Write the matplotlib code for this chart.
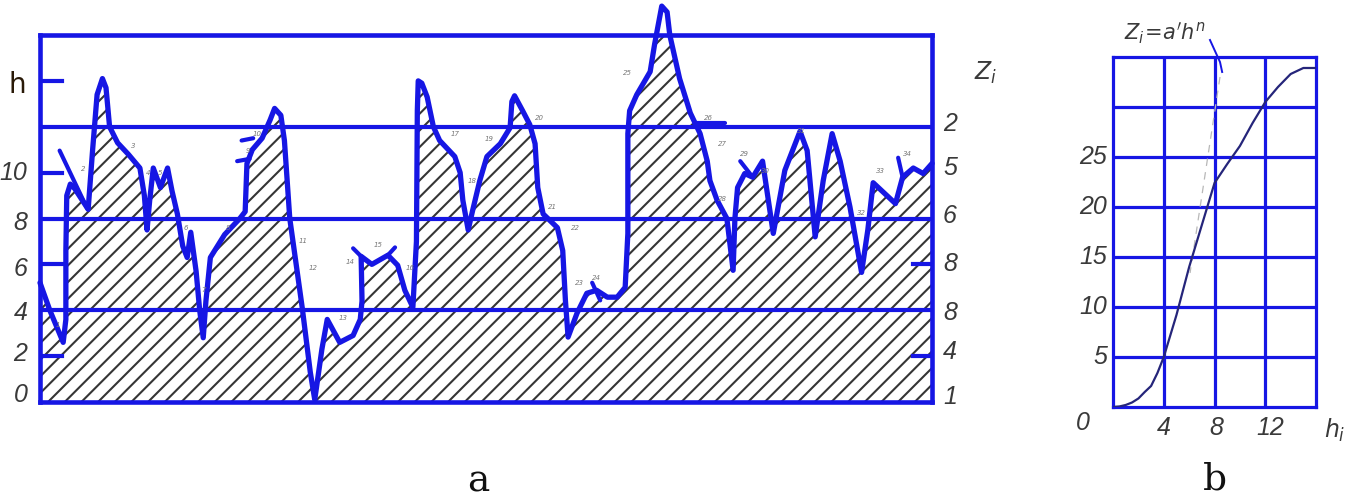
import numpy as np
import matplotlib
matplotlib.use('Agg')
import matplotlib.pyplot as plt

# ---- panel a: profile h along the section ----
prof_x = [0, 1.1, 2.6, 2.9, 2.9, 3.0, 3.4, 3.9, 5.4, 5.9, 6.4, 7.0, 7.4, 7.8, 8.7, 9.9,
          11.2, 11.7, 12.0, 12.3, 12.7, 13.5, 14.3, 14.8, 15.4, 16.0, 16.5, 16.9, 17.5,
          17.9, 18.3, 18.6, 19.1, 20.7, 22.4, 23.0, 23.2, 23.8, 24.9, 25.8, 26.3, 27.0,
          27.4, 28.0, 29.4, 30.3, 30.8, 31.6, 32.2, 33.6, 35.1, 35.9, 36.1, 36.0, 37.2,
          39.0, 40.1, 40.9, 41.8, 42.2, 42.3, 42.4, 42.8, 43.4, 44.1, 44.8, 46.5, 47.1,
          47.4, 48.0, 48.5, 49.3, 50.1, 51.6, 52.7, 52.9, 53.2, 54.1, 54.9, 55.5, 55.8,
          56.4, 58.0, 58.6, 58.9, 59.2, 60.2, 61.3, 62.4, 63.6, 64.7, 65.6, 65.9, 65.9,
          66.1, 66.9, 68.4, 68.9, 69.7, 70.3, 70.6, 71.7, 72.9, 74.0, 74.8, 75.1, 75.9,
          77.0, 77.7, 77.9, 78.2, 79.0, 79.9, 81.0, 81.5, 82.2, 83.5, 85.2, 86.0, 86.9,
          87.8, 88.8, 89.7, 90.8, 92.1, 92.8, 93.4, 95.9, 96.7, 97.9, 99.0, 100.0]
prof_h = [5.2, 4.0, 2.6, 3.6, 6.6, 9.0, 9.5, 9.3, 8.4, 11.0, 13.4, 14.1, 13.7, 12.0, 11.3, 10.8,
          10.2, 9.0, 7.5, 8.8, 10.2, 9.35, 10.2, 9.2, 8.2, 6.8, 6.3, 7.4, 5.7,
          4.0, 2.8, 4.4, 6.3, 7.3, 8.0, 8.3, 10.4, 11.0, 11.5, 12.3, 12.8, 12.5,
          11.4, 8.0, 4.1, 1.3, 0.1, 2.3, 3.6, 2.6, 2.9, 3.6, 4.4, 6.35, 6.0,
          6.4, 5.96, 4.87, 4.13, 7.0, 12.7, 14.0, 13.9, 13.3, 12.0, 11.4, 10.7, 10.0,
          8.8, 7.5, 8.35, 9.65, 10.7, 11.26, 11.96, 13.1, 13.35, 12.7, 12.1, 11.26, 9.35,
          8.2, 7.6, 6.6, 4.43, 2.83, 3.87, 4.74, 4.87, 4.57, 4.57, 5.0, 7.35, 11.7,
          12.7, 13.4, 14.4, 15.6, 17.26, 17.0, 16.0, 14.1, 12.6, 11.7, 10.5, 9.65, 8.8,
          8.0, 5.74, 8.0, 9.35, 9.96, 9.8, 10.5, 9.2, 7.35, 10.1, 11.8, 10.96, 7.2,
          9.65, 11.7, 10.5, 8.5, 5.65, 7.5, 9.56, 8.65, 9.8, 10.2, 9.96, 10.4]

# short extra pen strokes of the drawing
strokes = [((2.2, 10.96), (5.3, 8.43)),
           ((22.6, 11.4), (23.9, 11.5)),
           ((22.1, 10.5), (23.5, 10.6)),
           ((35.1, 6.7), (36.0, 6.35)),
           ((39.0, 6.4), (39.8, 6.74)),
           ((61.9, 5.2), (62.8, 4.43)),
           ((78.5, 10.5), (79.9, 9.8)),
           ((96.2, 10.65), (96.7, 9.8)),
           ((73.3, 12.15), (76.8, 12.15))]

pt_x = [2.0, 4.8, 10.4, 12.1, 13.5, 16.3, 18.3, 21.1, 23.3, 24.4, 29.5, 30.6, 34.0, 34.8,
        37.9, 41.5, 46.5, 48.5, 50.4, 56.0, 57.5, 60.0, 60.5, 62.4, 65.9, 74.9, 76.5,
        76.5, 79.0, 81.3, 85.4, 92.1, 94.2, 97.2]
pt_y = [3.35, 10.17, 11.17, 10.0, 10.0, 7.57, 4.87, 7.6, 10.96, 11.7, 7.04, 5.83, 3.65, 6.09,
        6.83, 5.83, 11.7, 9.65, 11.48, 12.4, 8.48, 7.57, 5.17, 5.39, 14.35, 12.4, 11.26,
        8.87, 10.83, 10.09, 11.83, 8.22, 10.09, 10.83]

levels = [4, 8, 12]
left_labels = ['0', '2', '4', '6', '8', '10']
left_pos = [0.3, 2.1, 3.9, 5.8, 7.8, 10.0]
right_labels = ['2', '5', '6', '8', '8', '4', '1']
right_pos = [12.1, 10.2, 8.1, 6.0, 3.9, 2.2, 0.2]

# ---- panel b: Z_i(h) curve ----
hb = [0, 0.5, 1, 1.5, 2, 2.5, 3, 3.5, 4, 5, 6, 7, 8, 9, 10, 11, 12, 13, 14, 15, 16]
zb = [0, 0.05, 0.2, 0.45, 0.85, 1.5, 2.1, 3.4, 5.0, 9.2, 14.0, 18.2, 22.4, 24.3, 26.1,
      28.4, 30.5, 32.0, 33.3, 33.9, 33.9]
b_xticks = [4, 8, 12]
b_yticks = [5, 10, 15, 20, 25]

blue = '#1616e4'
txt = '#3a3a3a'
hand = dict(family=['Liberation Sans', 'DejaVu Sans'], style='italic',
            color=txt, fontsize=18)

plt.rcParams['hatch.linewidth'] = 1.5
plt.rcParams['hatch.color'] = '#353535'

fig = plt.figure(figsize=(13.59, 5.03), dpi=100)

ax = fig.add_axes([0.02943, 0.2008, 0.6564, 0.7296])
ax.set_xlim(0, 100)
ax.set_ylim(0, 16)
ax.set_xticks([])
ax.set_yticks([])
for s in ax.spines.values():
    s.set_color(blue)
    s.set_linewidth(3.3)
    s.set_zorder(5)

ax.fill(prof_x + [100, 0], prof_h + [0, 0], facecolor='none', edgecolor='#353535',
        hatch='//', linewidth=0, zorder=1)
for lv in levels:
    ax.axhline(lv, color=blue, lw=3.0, zorder=2)
ax.plot(prof_x, prof_h, color=blue, lw=3.8, solid_capstyle='round',
        solid_joinstyle='round', zorder=4, clip_on=False)
for (x0, y0), (x1, y1) in strokes:
    ax.plot([x0, x1], [y0, y1], color=blue, lw=3.0, solid_capstyle='round', zorder=4)
for i, (x, y) in enumerate(zip(pt_x, pt_y)):
    ax.text(x, y, str(i + 1), fontsize=5, style='italic', color='#777777',
            ha='center', va='center', zorder=6)

# small tick stubs
for yv in [2, 6, 10, 14]:
    ax.plot([0, 2.5], [yv, yv], color=blue, lw=3.0, zorder=4)
for yv in [2, 6]:
    ax.plot([97.9, 100], [yv, yv], color=blue, lw=3.0, zorder=4)

for lab, yv in zip(left_labels, left_pos):
    ax.text(-1.4, yv, lab, ha='right', va='center', clip_on=False, **hand)
ax.text(-1.6, 13.8, 'h', ha='right', va='center', fontsize=20, color='#2a1a08',
        family='DejaVu Sans')
for lab, yv in zip(right_labels, right_pos):
    ax.text(102.0, yv, lab, ha='center', va='center', clip_on=False, **hand)
ax.text(106.0, 14.35, '$Z_i$', ha='center', va='center', fontsize=17, color=txt)

# ---- panel b ----
bx = fig.add_axes([0.819, 0.1909, 0.1494, 0.6958])
bx.set_xlim(0, 16)
bx.set_ylim(0, 35)
bx.set_xticks([])
bx.set_yticks([])
for s in bx.spines.values():
    s.set_color(blue)
    s.set_linewidth(2.3)
for xv in b_xticks:
    bx.axvline(xv, color=blue, lw=2.3, zorder=2)
for yv in b_yticks + [30]:
    bx.axhline(yv, color=blue, lw=2.3, zorder=2)
bx.plot(hb, zb, color='#25257a', lw=1.6, zorder=4)
bx.plot([8.43, 6.07], [33.0, 13.4], color='#b8b8b8', lw=0.9, ls=(0, (6, 5)), zorder=3)
bx.plot([7.64, 8.43, 8.6], [36.7, 34.5, 33.5], color=blue, lw=1.4, clip_on=False, zorder=4)

for yv in b_yticks:
    bx.text(-0.45, yv, str(yv), ha='right', va='center', clip_on=False, **hand)
bx.text(-2.36, -1.6, '0', ha='center', va='center', clip_on=False, **hand)
for xv, xl in zip(b_xticks, [4.0, 8.1, 12.4]):
    bx.text(xl, -2.1, str(xv), ha='center', va='center', clip_on=False, **hand)
bx.text(17.5, -2.3, '$h_i$', ha='center', va='center', fontsize=17, color=txt)
bx.text(4.1, 37.4, "$Z_i\\!=\\!a'h^n$", ha='center', va='center', fontsize=15,
        color=txt, clip_on=False)

fig.text(478 / 1359, 1 - 482 / 503, 'a', ha='center', va='center', fontsize=27,
         family='DejaVu Serif', color='#111111')
fig.text(1215 / 1359, 1 - 479 / 503, 'b', ha='center', va='center', fontsize=27,
         family='DejaVu Serif', color='#111111')

fig.savefig('out.png', dpi=100)
